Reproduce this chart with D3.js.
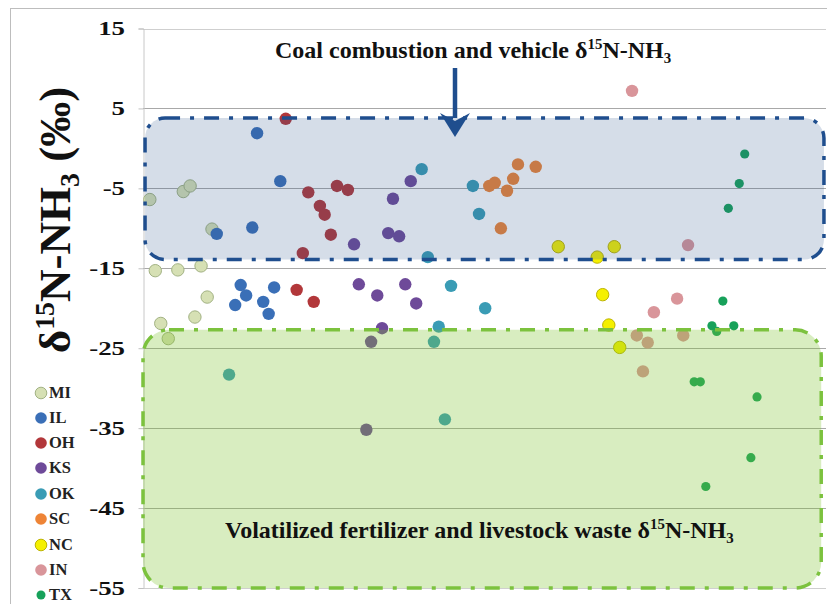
<!DOCTYPE html>
<html>
<head>
<meta charset="utf-8">
<script src="https://cdn.jsdelivr.net/npm/d3@7"></script>
<style>
  html, body { margin: 0; padding: 0; background: #fff; }
  svg { display: block; }
</style>
</head>
<body>
<svg id="chart" width="827" height="604"></svg>
<script>
// ---- data: [sample position, δ15N-NH3 (‰)] per state ----
const states = ["MI", "IL", "OH", "KS", "OK", "SC", "NC", "IN", "TX"];

const MI = [[1.0,-6.4],[5.9,-5.4],[6.9,-4.7],[10.1,-10.1],[1.8,-15.3],[5.1,-15.2],
            [8.5,-14.7],[9.4,-18.6],[7.6,-21.1],[2.6,-21.9],[3.7,-23.8]];
const IL = [[16.7,1.9],[20.1,-4.1],[10.8,-10.7],[16.0,-9.9],[14.3,-17.1],[15.1,-18.4],
            [13.5,-19.6],[19.2,-17.4],[17.6,-19.2],[18.4,-20.7]];
const OH = [[20.9,3.7],[24.2,-5.5],[25.9,-7.2],[26.6,-8.3],[28.4,-4.7],[30.0,-5.2],
            [27.5,-10.8],[23.4,-13.1],[22.5,-17.7],[25.0,-19.2]];
const KS = [[30.9,-12.0],[39.2,-4.1],[36.6,-6.3],[35.9,-10.6],[37.5,-11.0],[31.6,-17.0],
            [34.3,-18.4],[38.4,-17.0],[40.0,-19.4],[35.0,-22.5],[33.4,-24.2],[32.7,-35.2]];
const OK = [[40.8,-2.6],[48.3,-4.7],[49.2,-8.2],[41.7,-13.6],[45.1,-17.2],[50.1,-20.0],
            [43.3,-22.3],[42.6,-24.2],[44.2,-33.9],[12.6,-28.3]];
const SC = [[54.9,-2.0],[57.5,-2.3],[54.2,-3.8],[50.7,-4.7],[51.5,-4.3],[53.3,-5.3],[52.4,-10.0]];
const NC = [[60.8,-12.3],[69.0,-12.3],[66.5,-13.6],[67.3,-18.3],[68.2,-22.1],[69.8,-24.9]];
const IN = [[71.6,7.2],[79.8,-12.1],[78.2,-18.8],[74.8,-20.5],[72.3,-23.4],[73.9,-24.3],
            [79.1,-23.4],[73.2,-27.9]];
const TX = [[88.1,-0.7],[87.3,-4.4],[85.7,-7.5],[84.9,-19.1],[83.3,-22.2],[86.5,-22.2],
            [84.0,-22.9],[80.7,-29.2],[81.6,-29.2],[89.9,-31.1],[89.0,-38.7],[82.4,-42.3]];

const seriesData = { MI, IL, OH, KS, OK, SC, NC, IN, TX };

const yTicks = [15, 5, -5, -15, -25, -35, -45, -55];
// source ranges (‰) shaded on the chart
const coalRange = [-13.9, 3.8];
const fertRange = [-55, -22.7];

// ---- styling ----
const fills = { MI:"#d6e0b4", IL:"#3a6fb7", OH:"#b2373a", KS:"#6e4a99", OK:"#3a9cb5",
                SC:"#ee8436", NC:"#f5f000", IN:"#d9959a", TX:"#17a15a" };
const strokes = { MI:"#a2b283", NC:"#bdb400" };
const serif = "'Liberation Serif', 'Times New Roman', serif";

const svg = d3.select("#chart");
const plot = { left: 143, right: 826, top: 28.5, bottom: 588 };

const x = d3.scaleLinear().domain([0, 100]).range([plot.left, plot.right]);
const y = d3.scaleLinear().domain([-55, 15]).range([plot.bottom, plot.top]);

// outer frame
svg.append("rect")
  .attr("x", 10.5).attr("y", 8.5).attr("width", 900).attr("height", 700)
  .attr("fill", "none").attr("stroke", "#bdbdbd").attr("stroke-width", 1);

// gridlines
svg.append("g").selectAll("line").data(yTicks).join("line")
  .attr("x1", plot.left).attr("x2", plot.right)
  .attr("y1", d => Math.round(y(d)) + 0.5).attr("y2", d => Math.round(y(d)) + 0.5)
  .attr("stroke", d => (d === 15 || d === -55) ? "#cfcfcf" : "#a8a8a8")
  .attr("stroke-width", 1);

// y axis (line, ticks, labels); labels are set in a wide bold face
const labelStretch = 1.45;
const yAxis = d3.axisLeft(y).tickValues(yTicks).tickSize(5).tickPadding(12)
  .tickFormat(d => String(d));
const gAxis = svg.append("g")
  .attr("transform", `translate(${plot.left + 0.5},0)`)
  .call(yAxis);
gAxis.select(".domain").attr("stroke", "#c8c8c8");
gAxis.selectAll(".tick line").attr("stroke", "#c0c0c0");
gAxis.selectAll(".tick text")
  .attr("font-family", serif).attr("font-weight", "bold")
  .attr("font-size", 18.5).attr("fill", "#111")
  .attr("x", -18.5 / labelStretch)
  .attr("dy", "0.34em")
  .attr("transform", `scale(${labelStretch},1)`);

// points
const gPts = svg.append("g");
states.forEach(s => {
  gPts.append("g").selectAll("circle").data(seriesData[s]).join("circle")
    .attr("cx", d => x(d[0])).attr("cy", d => y(d[1]))
    .attr("r", s === "TX" ? 4.6 : 6.2)
    .attr("fill", fills[s])
    .attr("stroke", strokes[s] || "none")
    .attr("stroke-width", strokes[s] ? 1 : 0);
});

// shaded source ranges, drawn over the points
const dash = "15 10 4 10";
svg.append("rect")
  .attr("x", x(0.3)).attr("y", y(coalRange[1]))
  .attr("width", x(99.7) - x(0.3)).attr("height", y(coalRange[0]) - y(coalRange[1]))
  .attr("rx", 20).attr("ry", 20)
  .attr("fill", "#2d558c").attr("fill-opacity", 0.2)
  .attr("stroke", "#1f4e8e").attr("stroke-width", 3.5)
  .attr("stroke-dasharray", dash);

svg.append("rect")
  .attr("x", x(0)).attr("y", y(fertRange[1]))
  .attr("width", x(99.3) - x(0)).attr("height", y(fertRange[0]) - y(fertRange[1]))
  .attr("rx", 26).attr("ry", 26)
  .attr("fill", "#7dc32d").attr("fill-opacity", 0.3)
  .attr("stroke", "#7cc23e").attr("stroke-width", 3.5)
  .attr("stroke-dasharray", dash);

// δ15N-NH3 with superscript / subscript
function iso(t, size) {
  t.append("tspan").text("δ");
  t.append("tspan").attr("font-size", size * 0.62).attr("dy", -size * 0.36).text("15");
  t.append("tspan").attr("dy", size * 0.36).text("N-NH");
  t.append("tspan").attr("font-size", size * 0.62).attr("dy", size * 0.2).text("3");
}

// annotations
const t1 = svg.append("text")
  .attr("x", 275).attr("y", 58)
  .attr("font-family", serif).attr("font-weight", "bold").attr("font-size", 24)
  .attr("fill", "#111");
t1.append("tspan").text("Coal combustion and vehicle ");
iso(t1, 24);

const t2 = svg.append("text")
  .attr("x", 225).attr("y", 538)
  .attr("font-family", serif).attr("font-weight", "bold").attr("font-size", 24)
  .attr("fill", "#111");
t2.append("tspan").text("Volatilized fertilizer and livestock waste ");
iso(t2, 24);

// arrow pointing into the coal combustion range
const ax = 455;
svg.append("line")
  .attr("x1", ax).attr("x2", ax).attr("y1", 68).attr("y2", 118)
  .attr("stroke", "#1f4e8e").attr("stroke-width", 4.5);
svg.append("path")
  .attr("d", `M${ax - 15},${113} L${ax},${121} L${ax + 15},${113} L${ax},${137} Z`)
  .attr("fill", "#1f4e8e");

// y axis title
const yt = svg.append("text")
  .attr("transform", "translate(70,220) rotate(-90)")
  .attr("text-anchor", "middle")
  .attr("font-family", serif).attr("font-weight", "bold").attr("font-size", 45)
  .attr("fill", "#111");
iso(yt, 45);
yt.append("tspan").attr("dy", -45 * 0.2).text(" (‰)");

// legend
const legY = [393, 418, 443, 468, 494, 519, 545, 570, 595];
const gLeg = svg.append("g");
states.forEach((s, i) => {
  gLeg.append("circle")
    .attr("cx", 41).attr("cy", legY[i]).attr("r", s === "TX" ? 4.5 : 5.8)
    .attr("fill", fills[s])
    .attr("stroke", strokes[s] || "none").attr("stroke-width", strokes[s] ? 1 : 0);
  gLeg.append("text")
    .attr("x", 49).attr("y", legY[i]).attr("dy", "0.33em")
    .attr("font-family", serif).attr("font-weight", "bold").attr("font-size", 16.5)
    .attr("fill", "#222")
    .text(s);
});
</script>
</body>
</html>
